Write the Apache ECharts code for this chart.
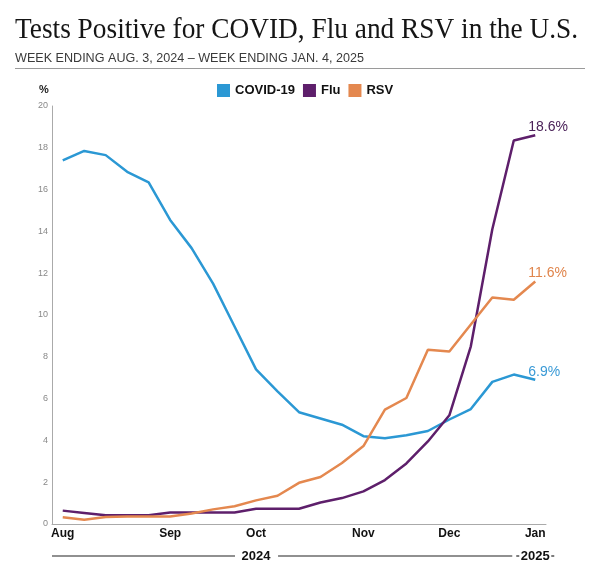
<!DOCTYPE html>
<html>
<head>
<meta charset="utf-8">
<script src="https://cdn.jsdelivr.net/npm/echarts@6/dist/echarts.min.js"></script>
<style>
  html, body { margin: 0; padding: 0; background: #fff; }
  #chart { width: 600px; height: 564px; }
</style>
</head>
<body>
<div id="chart"></div>
<script>
// week ending dates, Aug 3 2024 .. Jan 4 2025
const weeks = ['Aug 3', 'Aug 10', 'Aug 17', 'Aug 24', 'Aug 31', 'Sep 7', 'Sep 14', 'Sep 21', 'Sep 28',
  'Oct 5', 'Oct 12', 'Oct 19', 'Oct 26', 'Nov 2', 'Nov 9', 'Nov 16', 'Nov 23', 'Nov 30',
  'Dec 7', 'Dec 14', 'Dec 21', 'Dec 28', 'Jan 4'];
// month tick labels, by week index
const monthTicks = { 0: 'Aug', 5: 'Sep', 9: 'Oct', 14: 'Nov', 18: 'Dec', 22: 'Jan' };
// year labels under the axis, by week index
const yearTicks = { 9: '2024', 22: '2025' };

// percent of tests positive
const covid = [17.4, 17.85, 17.65, 16.85, 16.35, 14.55, 13.2, 11.5, 9.45, 7.4, 6.35, 5.35,
  5.05, 4.75, 4.2, 4.1, 4.25, 4.45, 5.0, 5.5, 6.8, 7.15, 6.9];
const flu = [0.64, 0.53, 0.42, 0.42, 0.42, 0.55, 0.55, 0.55, 0.55, 0.73, 0.73, 0.73,
  1.03, 1.24, 1.56, 2.1, 2.9, 3.95, 5.2, 8.5, 14.1, 18.35, 18.6];
const rsv = [0.32, 0.2, 0.33, 0.36, 0.36, 0.36, 0.5, 0.7, 0.85, 1.13, 1.35, 1.97,
  2.25, 2.92, 3.73, 5.47, 6.03, 8.34, 8.25, 9.55, 10.84, 10.73, 11.6];

const colors = { covid: '#2b98d4', flu: '#5e1f6b', rsv: '#e4884f' };
const labelColors = { covid: '#3a9ad6', flu: '#4b2259', rsv: '#e0854c' };

const titleText = 'Tests Positive for COVID, Flu and RSV in the U.S.';
const subText = 'WEEK ENDING AUG. 3, 2024 \u2013 WEEK ENDING JAN. 4, 2025';
const titleFont = '30px "Liberation Serif"';
const subFont = '12px "Liberation Sans"';

// squeeze the text to the width it has in the picture
function fitScale(text, font, target) {
  let ctx = document.createElement('canvas').getContext('2d');
  ctx.font = font;
  return target / ctx.measureText(text).width;
}

function makeSeries(name, values, key) {
  return {
    name: name,
    type: 'line',
    data: values,
    showSymbol: false,
    symbol: 'none',
    lineStyle: { width: 2.5, color: colors[key] },
    itemStyle: { color: colors[key] },
    emphasis: { disabled: true },
    endLabel: {
      show: true,
      formatter: (p) => p.value + '%',
      color: labelColors[key],
      fontFamily: 'Liberation Sans',
      fontSize: 14,
      offset: [-15, -8]
    }
  };
}

let chart = echarts.init(document.getElementById('chart'));
chart.setOption({
  animation: false,
  backgroundColor: '#fff',
  textStyle: { fontFamily: 'Liberation Sans' },
  legend: {
    left: 217,
    top: 84,
    padding: 0,
    icon: 'rect',
    itemWidth: 13,
    itemHeight: 13,
    itemGap: 8,
    textStyle: { fontSize: 13, fontWeight: 'bold', color: '#111' },
    data: ['COVID-19', 'Flu', 'RSV']
  },
  grid: { left: 52, right: 54, top: 106, bottom: 40 },
  xAxis: {
    type: 'category',
    data: weeks,
    boundaryGap: true,
    axisLine: { lineStyle: { color: '#aaa', width: 1 } },
    axisTick: { show: false },
    axisLabel: {
      interval: (i) => monthTicks[i] !== undefined,
      formatter: (v, i) => monthTicks[i] || '',
      color: '#111',
      fontWeight: 'bold',
      fontSize: 12,
      margin: 4
    },
    splitLine: { show: false }
  },
  yAxis: {
    type: 'value',
    min: 0,
    max: 20,
    interval: 2,
    axisLine: { show: true, lineStyle: { color: '#aaa', width: 1 } },
    axisTick: { show: false },
    axisLabel: { color: '#888', fontSize: 9, margin: 4 },
    splitLine: { show: false }
  },
  series: [
    makeSeries('COVID-19', covid, 'covid'),
    makeSeries('Flu', flu, 'flu'),
    makeSeries('RSV', rsv, 'rsv')
  ]
});

// title, subtitle, rule, "%" and the year line under the axis
let yearY = 556;
let xLeft = 52;
let g = [
  {
    type: 'text', x: 15, y: 30, scaleX: fitScale(titleText, titleFont, 563),
    style: { text: titleText, font: titleFont, fill: '#151515', verticalAlign: 'middle' }
  },
  {
    type: 'text', x: 15, y: 58.5, scaleX: fitScale(subText, subFont, 349),
    style: { text: subText, font: subFont, fill: '#3a3a3a', verticalAlign: 'middle' }
  },
  {
    type: 'line', shape: { x1: 15, y1: 68.5, x2: 585, y2: 68.5 },
    style: { stroke: '#9a9a9a', lineWidth: 1 }
  },
  {
    type: 'text', x: 44, y: 90,
    style: { text: '%', font: 'bold 11px "Liberation Sans"', fill: '#222', align: 'center', verticalAlign: 'middle' }
  }
];
let segStart = xLeft;
Object.keys(yearTicks).forEach((k) => {
  let cx = chart.convertToPixel({ xAxisIndex: 0 }, weeks[k]);
  let label = yearTicks[k];
  g.push({
    type: 'text', x: cx, y: yearY,
    style: { text: label, font: 'bold 13px "Liberation Sans"', fill: '#111', align: 'center', verticalAlign: 'middle' }
  });
  let half = 15;
  if (+k === weeks.length - 1) {
    // "- 2025 -" at the end
    g.push({ type: 'line', shape: { x1: segStart, y1: yearY, x2: cx - half - 8, y2: yearY }, style: { stroke: '#222', lineWidth: 1.2 } });
    g.push({ type: 'line', shape: { x1: cx - half - 4, y1: yearY, x2: cx - half - 1, y2: yearY }, style: { stroke: '#222', lineWidth: 1.2 } });
    g.push({ type: 'line', shape: { x1: cx + half + 1, y1: yearY, x2: cx + half + 4, y2: yearY }, style: { stroke: '#222', lineWidth: 1.2 } });
  } else {
    g.push({ type: 'line', shape: { x1: segStart, y1: yearY, x2: cx - half - 6, y2: yearY }, style: { stroke: '#222', lineWidth: 1.2 } });
    segStart = cx + half + 7;
  }
});
chart.setOption({ graphic: g });
</script>
</body>
</html>
